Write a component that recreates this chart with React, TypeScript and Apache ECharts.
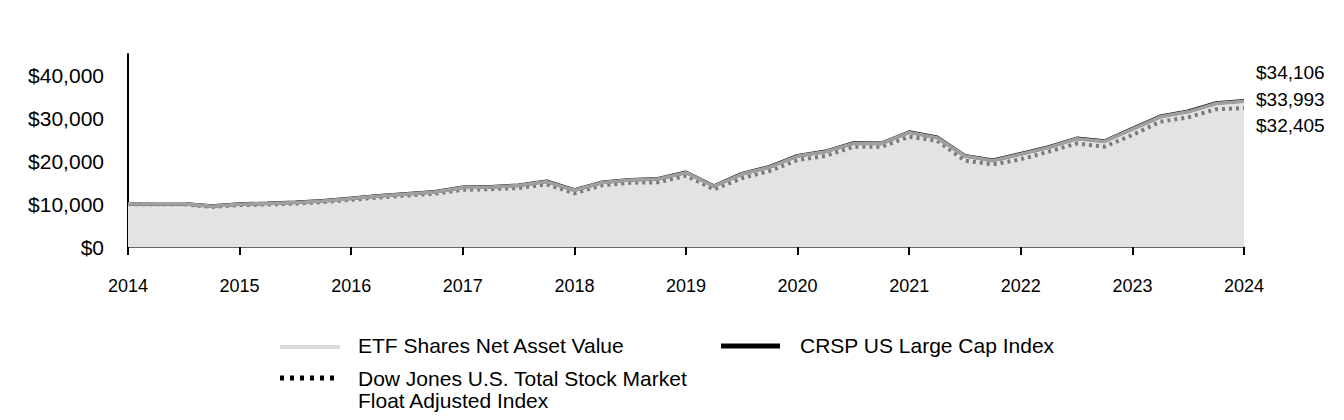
import React, { useEffect, useRef } from "react";
import * as echarts from "echarts";

// Quarterly categories, 2014 Q1 .. 2024 Q1
const quarters: string[] = [];
for (let y = 2014; y <= 2024; y++) {
  for (let q = 1; q <= 4; q++) {
    if (y === 2024 && q > 1) break;
    quarters.push(`${y} Q${q}`);
  }
}

const etfValues = [
  10000, 10060, 10060, 9520, 9990, 10150, 10380, 10750, 11310, 11910, 12380,
  12840, 13860, 14000, 14330, 15260, 13240, 15030, 15630, 15860, 17350, 14160,
  17020, 18650, 21210, 22230, 24160, 24090, 26720, 25480, 21200, 20130, 21660,
  23220, 25240, 24610, 27470, 30360, 31520, 33450, 33993,
];

const crspValues = [
  10000, 10100, 10100, 9560, 10030, 10190, 10420, 10800, 11360, 11960, 12430,
  12890, 13920, 14060, 14390, 15320, 13290, 15090, 15690, 15930, 17420, 14220,
  17090, 18720, 21290, 22310, 24250, 24180, 26810, 25580, 21290, 20210, 21750,
  23320, 25340, 24710, 27580, 30470, 31640, 33570, 34106,
];

const djValues = [
  10000, 9950, 9960, 9330, 9790, 9910, 10120, 10470, 11000, 11560, 12010,
  12430, 13340, 13480, 13760, 14620, 12520, 14390, 14990, 15080, 16620, 13450,
  16020, 17720, 20280, 21220, 23390, 23350, 25720, 24780, 20120, 19280, 20450,
  22220, 24130, 23390, 26110, 29210, 30240, 32110, 32405,
];

const endLabels = ["$34,106", "$33,993", "$32,405"];
const seriesNames = [
  "ETF Shares Net Asset Value",
  "CRSP US Large Cap Index",
  "Dow Jones U.S. Total Stock Market\nFloat Adjusted Index",
];

const FONT = "'Liberation Sans', Arial, Helvetica, sans-serif";

export default function App() {
  const ref = useRef<HTMLDivElement>(null);

  useEffect(() => {
    if (!ref.current) return;
    const chart = echarts.init(ref.current, undefined, { renderer: "svg" });
    const textStyle = { fontFamily: FONT, fontSize: 19, fill: "#000" };
    chart.setOption({
      animation: false,
      textStyle: { fontFamily: FONT },
      grid: { left: 128, right: 100, top: 54, bottom: 173, containLabel: false },
      xAxis: {
        type: "category",
        data: quarters,
        boundaryGap: false,
        axisLine: { show: true, lineStyle: { color: "#333", width: 1.5 } },
        axisTick: {
          show: true,
          interval: 3,
          length: 8,
          lineStyle: { color: "#000", width: 2 },
        },
        axisLabel: {
          interval: 3,
          margin: 30,
          color: "#000",
          fontSize: 18,
          fontFamily: FONT,
          formatter: (v: string) => v.slice(0, 4),
        },
        splitLine: { show: false },
      },
      yAxis: {
        type: "value",
        min: 0,
        max: 45000,
        interval: 5000,
        axisLine: { show: true, lineStyle: { color: "#000", width: 2 } },
        axisTick: { show: false },
        splitLine: { show: false },
        axisLabel: {
          margin: 24,
          color: "#000",
          fontSize: 21,
          fontFamily: FONT,
          formatter: (v: number) =>
            v % 10000 === 0 ? "$" + v.toLocaleString("en-US") : "",
        },
      },
      series: [
        {
          name: seriesNames[1],
          type: "line",
          data: crspValues,
          symbol: "none",
          z: 2,
          lineStyle: { color: "#000", width: 3.5 },
          areaStyle: { color: "#e3e3e3", opacity: 1 },
        },
        {
          name: seriesNames[2],
          type: "line",
          data: djValues,
          symbol: "none",
          z: 3,
          lineStyle: { color: "#7a7a7a", width: 4, type: [3, 4] },
        },
        {
          name: seriesNames[0],
          type: "line",
          data: etfValues,
          symbol: "none",
          z: 4,
          lineStyle: { color: "#a0a0a0", width: 3.5 },
        },
      ],
      graphic: [
        { type: "text", left: 1256, top: 63, style: { ...textStyle, text: endLabels[0] } },
        { type: "text", left: 1256, top: 90, style: { ...textStyle, text: endLabels[1] } },
        { type: "text", left: 1256, top: 116, style: { ...textStyle, text: endLabels[2] } },
        // legend
        {
          type: "line",
          shape: { x1: 280, y1: 347, x2: 340, y2: 347 },
          style: { stroke: "#d9d9d9", lineWidth: 4 },
        },
        {
          type: "text",
          left: 358,
          top: 335,
          style: { ...textStyle, fontSize: 21, text: seriesNames[0] },
        },
        {
          type: "line",
          shape: { x1: 721, y1: 346, x2: 780, y2: 346 },
          style: { stroke: "#000", lineWidth: 5 },
        },
        {
          type: "text",
          left: 800,
          top: 335,
          style: { ...textStyle, fontSize: 21, text: seriesNames[1] },
        },
        {
          type: "line",
          shape: { x1: 280, y1: 378, x2: 336, y2: 378 },
          style: { stroke: "#000", lineWidth: 5, lineDash: [4, 6] },
        },
        {
          type: "text",
          left: 358,
          top: 367,
          style: { ...textStyle, fontSize: 21, lineHeight: 22, text: seriesNames[2] },
        },
      ],
    });
    return () => chart.dispose();
  }, []);

  return (
    <div
      ref={ref}
      style={{ position: "fixed", left: 0, top: 0, width: 1344, height: 420, background: "#fff" }}
    />
  );
}
